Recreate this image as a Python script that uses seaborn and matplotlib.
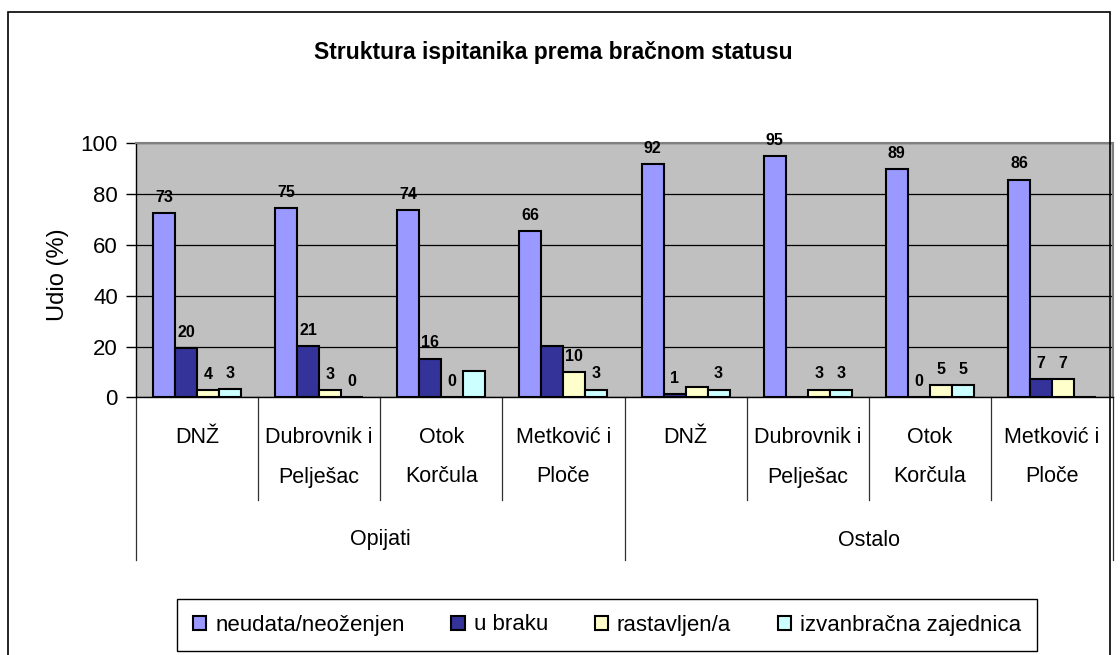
import pandas as pd
import numpy as np
import matplotlib
matplotlib.use("Agg")
import matplotlib.pyplot as plt
from matplotlib.patches import Rectangle
import seaborn as sns


# ==================================
# DATA
# ==================================

groups = ["Opijati", "Ostalo"]
regions = ["DNŽ", "Dubrovnik i\nPelješac", "Otok\nKorčula", "Metković i\nPloče"]
statuses = ["neudata/neoženjen", "u braku", "rastavljen/a", "izvanbračna zajednica"]

# bar heights (%), Opijati x4 then Ostalo x4
neudata = [72.4, 74.3, 73.5, 65.3, 91.7, 94.9, 89.8, 85.6]
u_braku = [19.3, 20.2, 15.2, 20.2, 1.2, 0, 0, 7.1]
rastavljen = [2.9, 2.9, 0, 10.0, 4.1, 3.1, 4.9, 7.1]
izvanbracna = [3.2, 0, 10.3, 3.1, 3.1, 3.1, 4.9, 0]

# data labels as printed ("" = no label shown)
neudata_lbl = ["73", "75", "74", "66", "92", "95", "89", "86"]
u_braku_lbl = ["20", "21", "16", "", "1", "", "0", "7"]
rastavljen_lbl = ["4", "3", "0", "10", "", "3", "5", "7"]
izvanbracna_lbl = ["3", "0", "", "3", "3", "3", "5", ""]

colors = ["#9999FF", "#333399", "#FFFFCC", "#CCFFFF"]


# ==================================
# LONG FORMAT
# ==================================

kat_order = [g + "|" + r for g in groups for r in regions]

series = [neudata, u_braku, rastavljen, izvanbracna]
labels = [neudata_lbl, u_braku_lbl, rastavljen_lbl, izvanbracna_lbl]

rows = []
for status, vals in zip(statuses, series):
    for kat, v in zip(kat_order, vals):
        rows.append({"kat": kat, "status": status, "udio": v})

df = pd.DataFrame(rows)


# ==================================
# PLOT
# ==================================

plt.rcParams["font.family"] = ["Liberation Sans", "DejaVu Sans"]
narrow = ["Liberation Sans Narrow", "Liberation Sans", "DejaVu Sans"]

W, H = 1120, 655
fig = plt.figure(figsize=(W / 100, H / 100), dpi=100)

ax_l, ax_r, ax_t, ax_b = 136, 1113, 143, 397.5
ax = fig.add_axes([
    ax_l / W,
    1 - ax_b / H,
    (ax_r - ax_l) / W,
    (ax_b - ax_t) / H
])

ax.set_facecolor("#C0C0C0")

sns.barplot(
    data=df,
    x="kat",
    y="udio",
    hue="status",
    order=kat_order,
    hue_order=statuses,
    palette=colors,
    saturation=1,
    width=0.72,
    gap=0,
    edgecolor="black",
    linewidth=1.5,
    errorbar=None,
    ax=ax
)

for cont, lbl in zip(ax.containers, labels):
    ax.bar_label(
        cont,
        labels=lbl,
        padding=6,
        fontsize=11.5,
        fontweight="bold",
        family=narrow
    )

ax.set_xlim(-0.5, 7.5)
ax.set_ylim(0, 100)
ax.set_yticks([0, 20, 40, 60, 80, 100])
ax.set_xticks([])
ax.set_xlabel("")
ax.set_ylabel("")

ax.tick_params(axis="y", direction="out", length=7, width=1,
               labelsize=16, pad=6, color="black")

ax.set_axisbelow(True)
ax.yaxis.grid(True, color="black", linewidth=0.9)

for side in ["top", "right"]:
    ax.spines[side].set_color("#808080")
    ax.spines[side].set_linewidth(1.5)
for side in ["left", "bottom"]:
    ax.spines[side].set_color("black")
    ax.spines[side].set_linewidth(1)

# category axis with two levels
trans = ax.get_xaxis_transform()
px = ax_b - ax_t

for b in np.arange(-0.5, 8.0, 1.0):
    if b in (-0.5, 3.5, 7.5):
        y_end = -(560 - ax_b) / px
    else:
        y_end = -(500 - ax_b) / px
    ax.plot([b, b], [0, y_end], transform=trans, color="#303030",
            linewidth=0.9, clip_on=False)

for i, kat in enumerate(kat_order):
    lines = kat.split("|")[1].split("\n")
    for j, line in enumerate(lines):
        y_pix = 438 + 39 * j
        ax.text(i, -(y_pix - ax_b) / px, line, transform=trans,
                ha="center", va="center", fontsize=15.5)

for k, g in enumerate(groups):
    ax.text(1.5 + 4 * k, -(540 - ax_b) / px, g, transform=trans,
            ha="center", va="center", fontsize=15.5)

# axis label and title
fig.text(58 / W, 1 - 275 / H, "Udio (%)", rotation=90,
         ha="center", va="center", fontsize=17)

fig.text(553 / W, 1 - 52 / H, "Struktura ispitanika prema bračnom statusu",
         ha="center", va="center", fontsize=16.5, fontweight="bold")

# legend
handles, leg_labels = ax.get_legend_handles_labels()
ax.legend_.remove()

fig.legend(
    handles,
    leg_labels,
    loc="center",
    bbox_to_anchor=(607 / W, 1 - 625 / H),
    ncol=4,
    frameon=True,
    fancybox=False,
    edgecolor="black",
    framealpha=1,
    fontsize=16,
    handlelength=0.6,
    handleheight=0.6,
    handletextpad=0.4,
    columnspacing=2.1,
    borderpad=0.7,
    borderaxespad=0
)

# outer chart border
fig.patches.append(Rectangle(
    (8 / W, -0.01),
    (1110 - 8) / W,
    1.01 - 12 / H,
    transform=fig.transFigure,
    fill=False,
    edgecolor="black",
    linewidth=1.2
))

plt.savefig("out.png", dpi=100)
